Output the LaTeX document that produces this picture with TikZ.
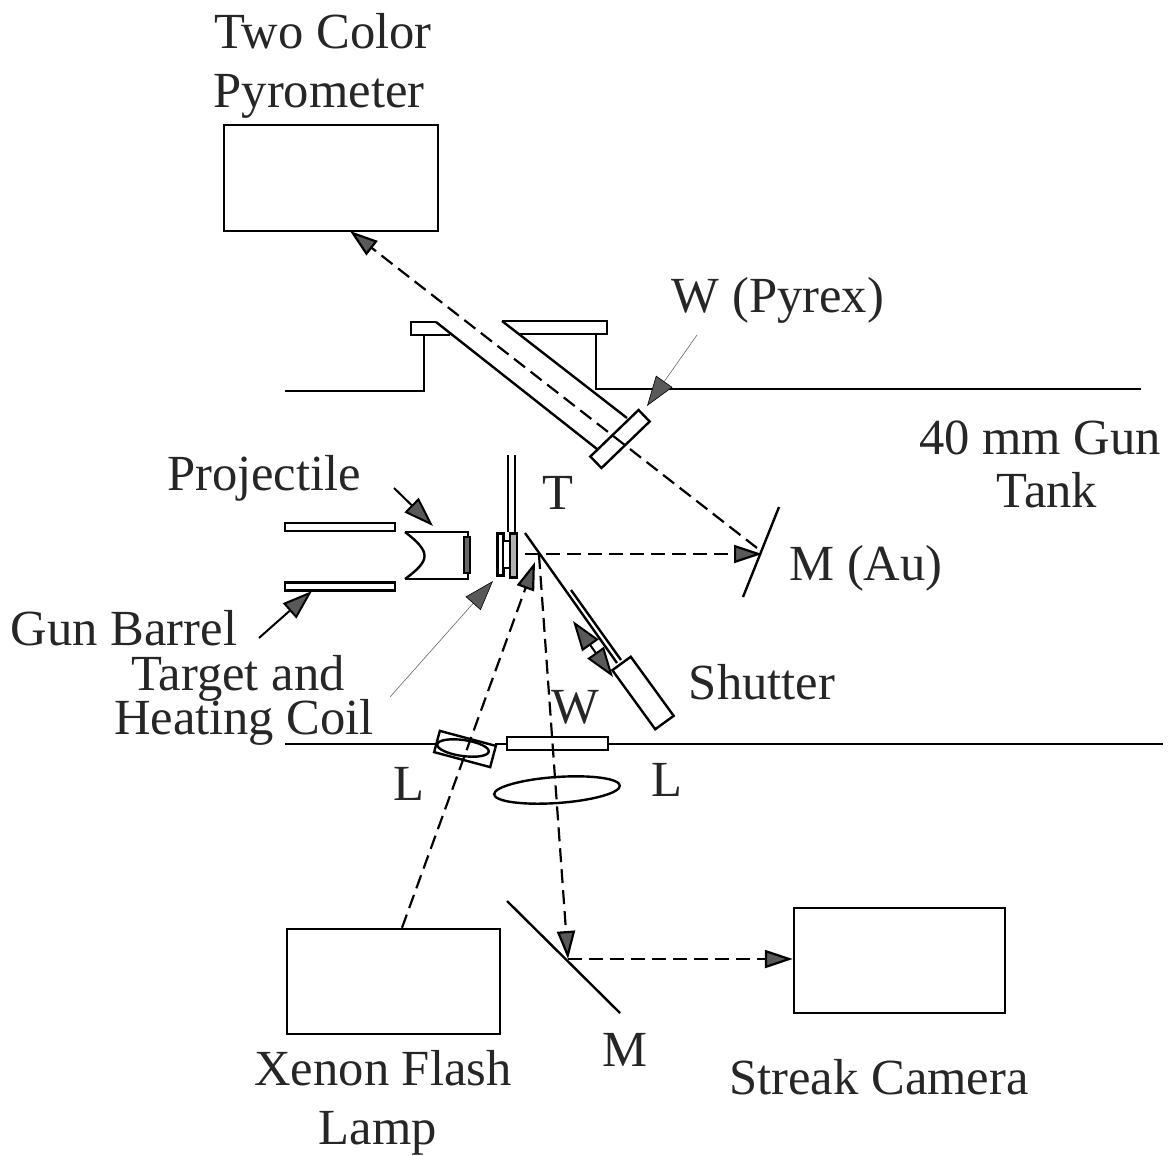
\documentclass[tikz,border=0pt]{standalone}
\usepackage{fontspec}
\setmainfont{Liberation Serif}
\usetikzlibrary{arrows.meta,positioning,calc,shapes.geometric}
\colorlet{tipgray}{black!65}
\tikzset{
  boxnode/.style={draw=black, line width=1.2pt, minimum width=107pt, inner sep=0pt},
  window/.style={draw=black, line width=1.2pt, inner sep=0pt, fill=white},
  lensnode/.style={draw=black, line width=1.2pt, ellipse, inner sep=0pt},
  wall/.style={line width=1.2pt, line join=miter},
  beam/.style={line width=1.1pt, dash pattern=on 7pt off 3.5pt, -{Triangle[length=14pt, width=9pt, fill=tipgray]}},
  pointer/.style={line width=1pt, -{Triangle[length=15pt, width=10pt, fill=tipgray]}},
  twoway/.style={line width=1pt, {Triangle[length=15pt, width=10pt, fill=tipgray]}-{Triangle[length=15pt, width=10pt, fill=tipgray]}},
  thinpointer/.style={line width=.3pt, draw=black!60, -{Triangle[length=15pt, width=10pt, fill=tipgray, color=black]}},
  lbl/.style={font=\fontsize{25.3}{27}\selectfont, inner sep=0pt, text=black!85},
}
\begin{document}
\begin{tikzpicture}[x=0.5pt, y=-0.5pt]
  \useasboundingbox (0,0) rectangle (1176,1155);

  %% ---- instrument boxes ----
  \node[boxnode, minimum height=53pt] (pyro) at (331,178) {};
  \node[boxnode, minimum width=106.5pt, minimum height=52.5pt] (lamp) at (393.5,981.5) {};
  \node[boxnode, minimum width=105.5pt, minimum height=52.5pt] (camera) at (899.5,960.5) {};

  %% ---- tank walls ----
  \draw[wall] (285,391) -- (424,391) -- (424,335);
  \draw[wall] (436,322) -- (411,322) -- (411,335) -- (450,335);
  \draw[wall] (436,322) -- (597,449);
  \draw[wall] (502,321) -- (607,321) -- (607,334) -- (518,334);
  \draw[wall] (502,321) -- (627,418);
  \draw[wall] (596,334) -- (596,389) -- (1141,389);
  \draw[wall] (285,744) -- (436,744);
  \draw[wall] (495,744) -- (507,744);
  \draw[wall] (608,744) -- (1163,744);

  %% ---- gun barrel and projectile ----
  \node[window, minimum width=55pt, minimum height=4pt] (barrelA) at (340,527) {};
  \node[window, minimum width=55pt, minimum height=4pt] (barrelB) at (340,586.5) {};
  \draw[wall] (405,532) -- (468,532) -- (468,579) -- (405,579);
  \draw[wall] (405,532) .. controls (431,552) and (431,560) .. (405,579);
  \node[window, fill=black!60, minimum width=3pt, minimum height=18pt] (plate) at (467,555) {};

  %% ---- target ----
  \draw[wall] (508,455) -- (508,532);
  \draw[wall] (515,455) -- (515,532);
  \node[window, minimum width=3pt, minimum height=21pt] (tgtA) at (500.5,554.5) {};
  \node[window, minimum width=3.5pt, minimum height=13.5pt] (tgtB) at (506.5,554.5) {};
  \node[window, fill=black!30, minimum width=3.5pt, minimum height=22pt] (tgtC) at (513.5,555.5) {};

  %% ---- mirrors ----
  \coordinate (mauA) at (743,597);
  \coordinate (mauB) at (779,507);
  \draw[wall] (mauA) -- (mauB);
  \coordinate (mirA) at (525,533);
  \coordinate (mirB) at (617,663);
  \draw[wall] (mirA) -- (mirB);
  \draw[wall] (571,590) -- (621,660);
  \coordinate (mirC) at (507,901);
  \coordinate (mirD) at (620,1013);
  \draw[wall] (mirC) -- (mirD);

  %% ---- windows, shutter, lenses ----
  \node[lensnode, minimum width=63pt, minimum height=13pt, rotate=4] (lensB) at (557,790) {};
  \node[lensnode, minimum width=26pt, minimum height=8pt, rotate=-8] (lensA) at (463,748) {};
  \node[draw=black, line width=1.2pt, inner sep=0pt, minimum width=29pt, minimum height=11pt, rotate=-15] (lensbox) at (465,749) {};

  %% ---- beams ----
  \coordinate (hit) at (525,554);
  \coordinate (reflect) at (539,555);
  \coordinate (mauhit) at (762,554);
  \coordinate (mauup) at (757,548);
  \coordinate (turn) at (568,959);
  \draw[beam] (hit) -- (mauhit);
  \draw[beam] (mauup) -- (350,231);
  \draw[beam] (reflect) -- (turn);
  \draw[beam] (turn) -- (camera.west |- turn);
  \draw[beam] (lamp.north west -| 402,929) -- (535,562);

  %% ---- windows on top of the beams ----
  \node[draw=black, line width=1.2pt, inner sep=0pt, minimum width=33.5pt, minimum height=8pt, rotate=44] (winP) at (620,439) {};
  \node[window, fill=none, minimum width=50.5pt, minimum height=6.5pt] (winW) at (557.5,743.5) {};
  \node[window, minimum width=36.5pt, minimum height=11.4pt, rotate=-54] (shutter) at (643,693) {};

  %% ---- pointers ----
  \draw[twoway] (573,621) -- (613,677);
  \draw[pointer] (394,488) -- (433,526);
  \draw[pointer] (259,638) -- (312,591);
  \draw[thinpointer] (390,697) -- (493,581);
  \draw[thinpointer] (697,335) -- (647,406);

  %% ---- labels ----
  \node[lbl] (lblTwo) at (323,31) {Two Color};
  \node[lbl] (lblPyro) at (319,96) {Pyrometer};
  \node[lbl] (lblPyrex) at (778,300) {W (Pyrex)};
  \node[lbl] (lblGun) at (1040,438) {40 mm Gun};
  \node[lbl] (lblTank) at (1047,490) {Tank};
  \node[lbl] (lblProj) at (264,478) {Projectile};
  \node[lbl] (lblT) at (558,493) {T};
  \node[lbl] (lblAu) at (866,568) {M (Au)};
  \node[lbl] (lblBarrel) at (124,628) {Gun Barrel};
  \node[lbl] (lblTarget) at (238,678) {Target and};
  \node[lbl] (lblCoil) at (244,722) {Heating Coil};
  \node[lbl] (lblShutter) at (762,682) {Shutter};
  \node[lbl] (lblW) at (575,707) {W};
  \node[lbl] (lblLa) at (409,784) {L};
  \node[lbl] (lblLb) at (667,780) {L};
  \node[lbl] (lblM) at (625,1050) {M};
  \node[lbl] (lblXenon) at (383,1068) {Xenon Flash};
  \node[lbl] (lblLamp) at (378,1133) {Lamp};
  \node[lbl] (lblStreak) at (879,1077) {Streak Camera};

\end{tikzpicture}
\end{document}
